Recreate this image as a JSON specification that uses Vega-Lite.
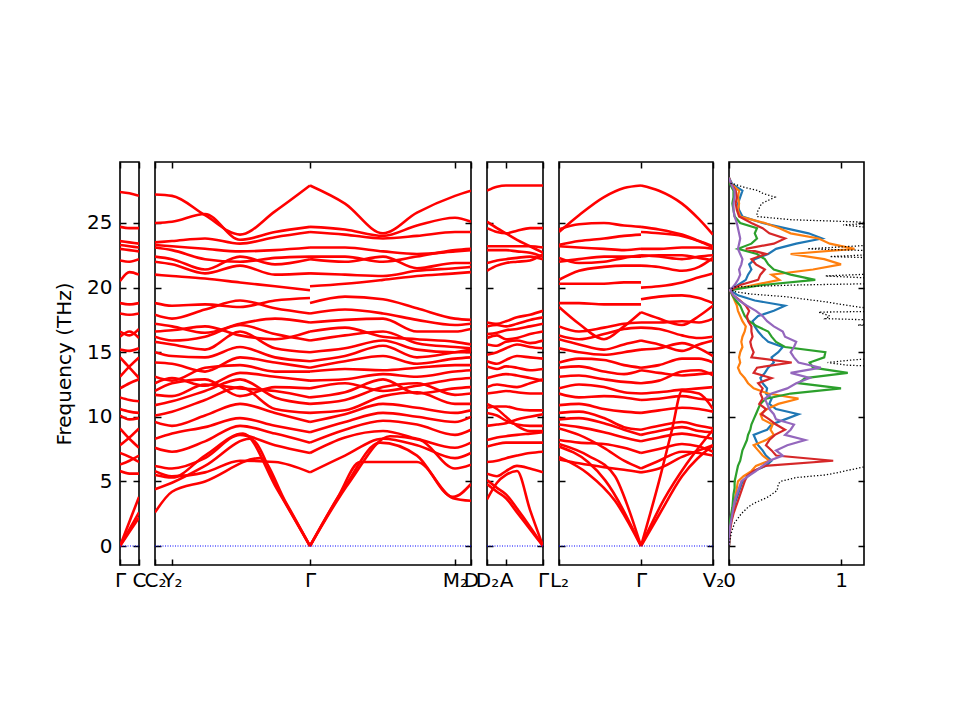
{
"$schema": "https://vega.github.io/schema/vega-lite/v6.json",
"background": "white",
"padding": {"left": 53, "top": 160, "right": 5, "bottom": 5},
"spacing": 16,
"bounds": "flush",
"config": {
  "view": {"stroke": "black", "strokeWidth": 1.6},
  "font": "DejaVu Sans",
  "axis": {"grid": false, "domain": false, "tickColor": "black", "tickWidth": 1.5, "tickSize": -6, "labelPadding": 14, "labelFont": "DejaVu Sans", "labelFontSize": 20, "labelColor": "black", "titleFont": "DejaVu Sans", "titleFontSize": 20, "titleFontWeight": "normal", "titleColor": "black", "labelOverlap": false, "labelFlush": false, "labelBound": false},
  "axisBottom": {"labelPadding": 11}
},
"datasets": {
"p1": [
{"b":"1","x":0,"f":27.4},{"b":"1","x":9.5,"f":27.3},{"b":"1","x":19,"f":27.1},
{"b":"2","x":0,"f":24.7},{"b":"2","x":9.5,"f":24.6},{"b":"2","x":19,"f":24.6},
{"b":"3","x":0,"f":23.6},{"b":"3","x":9.5,"f":23.5},{"b":"3","x":19,"f":23.4},
{"b":"4","x":0,"f":23.3},{"b":"4","x":9.5,"f":23.2},{"b":"4","x":19,"f":23.1},
{"b":"5","x":0,"f":23.0},{"b":"5","x":9.5,"f":22.9},{"b":"5","x":19,"f":22.8},
{"b":"6","x":0,"f":22.1},{"b":"6","x":9.5,"f":22.0},{"b":"6","x":19,"f":22.2},
{"b":"7","x":0,"f":20.5},{"b":"7","x":9.5,"f":21.2},{"b":"7","x":19,"f":21.0},
{"b":"8","x":0,"f":18.8},{"b":"8","x":9.5,"f":18.7},{"b":"8","x":19,"f":18.8},
{"b":"9","x":0,"f":18.0},{"b":"9","x":9.5,"f":17.9},{"b":"9","x":19,"f":18.0},
{"b":"10","x":0,"f":16.6},{"b":"10","x":9.5,"f":16.3},{"b":"10","x":19,"f":16.8},
{"b":"11","x":0,"f":16.2},{"b":"11","x":9.5,"f":16.6},{"b":"11","x":19,"f":16.1},
{"b":"12","x":0,"f":15.2},{"b":"12","x":9.5,"f":15.1},{"b":"12","x":19,"f":15.3},
{"b":"13","x":0,"f":14.6},{"b":"13","x":9.5,"f":13.8},{"b":"13","x":19,"f":13.0},
{"b":"14","x":0,"f":13.1},{"b":"14","x":9.5,"f":13.9},{"b":"14","x":19,"f":14.6},
{"b":"15","x":0,"f":12.2},{"b":"15","x":9.5,"f":12.6},{"b":"15","x":19,"f":12.9},
{"b":"16","x":0,"f":11.5},{"b":"16","x":9.5,"f":11.3},{"b":"16","x":19,"f":11.2},
{"b":"17","x":0,"f":10.6},{"b":"17","x":9.5,"f":10.4},{"b":"17","x":19,"f":10.3},
{"b":"18","x":0,"f":10.1},{"b":"18","x":9.5,"f":9.8},{"b":"18","x":19,"f":9.9},
{"b":"19","x":0,"f":9.1},{"b":"19","x":9.5,"f":8.3},{"b":"19","x":19,"f":7.6},
{"b":"20","x":0,"f":7.8},{"b":"20","x":9.5,"f":8.4},{"b":"20","x":19,"f":9.1},
{"b":"21","x":0,"f":7.2},{"b":"21","x":9.5,"f":6.9},{"b":"21","x":19,"f":6.5},
{"b":"22","x":0,"f":6.3},{"b":"22","x":9.5,"f":6.6},{"b":"22","x":19,"f":7.0},
{"b":"23","x":0,"f":5.8},{"b":"23","x":9.5,"f":5.6},{"b":"23","x":19,"f":5.6},
{"b":"24","x":0,"f":0},{"b":"24","x":9.5,"f":1.9},{"b":"24","x":19,"f":3.8},
{"b":"25","x":0,"f":0},{"b":"25","x":9.5,"f":1.3},{"b":"25","x":19,"f":2.6},
{"b":"26","x":0,"f":0},{"b":"26","x":9.5,"f":1.1},{"b":"26","x":19,"f":2.2}
],
"p2": [
{"b":"aL1","x":0,"f":5.5},{"b":"aL1","x":17,"f":5.3},{"b":"aL1","x":50,"f":7.0},{"b":"aL1","x":88,"f":8.7},{"b":"aL1","x":122,"f":4.4},{"b":"aL1","x":155,"f":0},
{"b":"aL2","x":0,"f":4.4},{"b":"aL2","x":17,"f":4.9},{"b":"aL2","x":50,"f":6.2},{"b":"aL2","x":95,"f":8.3},{"b":"aL2","x":125,"f":4.1},{"b":"aL2","x":155,"f":0},
{"b":"aL3","x":0,"f":2.6},{"b":"aL3","x":17,"f":4.2},{"b":"aL3","x":50,"f":5.0},{"b":"aL3","x":105,"f":6.8},{"b":"aL3","x":130,"f":3.5},{"b":"aL3","x":155,"f":0},
{"b":"aR1","x":155,"f":0},{"b":"aR1","x":183,"f":3.8},{"b":"aR1","x":205,"f":6.5},{"b":"aR1","x":262,"f":6.5},{"b":"aR1","x":298,"f":3.7},{"b":"aR1","x":316,"f":3.5},
{"b":"aR2","x":155,"f":0},{"b":"aR2","x":190,"f":4.6},{"b":"aR2","x":225,"f":8.0},{"b":"aR2","x":262,"f":7.0},{"b":"aR2","x":298,"f":3.8},{"b":"aR2","x":316,"f":4.8},
{"b":"aR3","x":155,"f":0},{"b":"aR3","x":195,"f":5.0},{"b":"aR3","x":235,"f":8.5},{"b":"aR3","x":265,"f":8.2},{"b":"aR3","x":300,"f":6.0},{"b":"aR3","x":316,"f":6.3},
{"b":"L1","x":0,"f":5.8},{"b":"L1","x":17,"f":5.4},{"b":"L1","x":50,"f":5.7},{"b":"L1","x":85,"f":6.6},{"b":"L1","x":120,"f":6.5},{"b":"L1","x":155,"f":5.7},
{"b":"L2","x":0,"f":6.2},{"b":"L2","x":17,"f":6.0},{"b":"L2","x":50,"f":6.8},{"b":"L2","x":85,"f":8.6},{"b":"L2","x":120,"f":7.8},{"b":"L2","x":155,"f":7.2},
{"b":"L3","x":0,"f":7.6},{"b":"L3","x":17,"f":7.3},{"b":"L3","x":50,"f":8.1},{"b":"L3","x":85,"f":9.3},{"b":"L3","x":120,"f":8.7},{"b":"L3","x":155,"f":8.0},
{"b":"L4","x":0,"f":8.3},{"b":"L4","x":17,"f":8.7},{"b":"L4","x":50,"f":9.2},{"b":"L4","x":85,"f":9.9},{"b":"L4","x":120,"f":9.3},{"b":"L4","x":155,"f":8.8},
{"b":"L5","x":0,"f":9.6},{"b":"L5","x":17,"f":9.3},{"b":"L5","x":50,"f":10.1},{"b":"L5","x":85,"f":11.0},{"b":"L5","x":120,"f":10.3},{"b":"L5","x":155,"f":9.6},
{"b":"L6","x":0,"f":10.1},{"b":"L6","x":17,"f":10.4},{"b":"L6","x":50,"f":11.3},{"b":"L6","x":85,"f":12.3},{"b":"L6","x":120,"f":10.6},{"b":"L6","x":155,"f":10.3},
{"b":"L7","x":0,"f":10.9},{"b":"L7","x":17,"f":11.2},{"b":"L7","x":50,"f":12.0},{"b":"L7","x":85,"f":12.9},{"b":"L7","x":120,"f":11.5},{"b":"L7","x":155,"f":11.0},
{"b":"L8","x":0,"f":11.7},{"b":"L8","x":17,"f":11.6},{"b":"L8","x":50,"f":12.5},{"b":"L8","x":85,"f":12.2},{"b":"L8","x":120,"f":12.0},{"b":"L8","x":155,"f":11.5},
{"b":"L9","x":0,"f":12.0},{"b":"L9","x":17,"f":12.6},{"b":"L9","x":50,"f":12.9},{"b":"L9","x":85,"f":11.6},{"b":"L9","x":120,"f":12.3},{"b":"L9","x":155,"f":12.2},
{"b":"L10","x":0,"f":12.6},{"b":"L10","x":17,"f":13.0},{"b":"L10","x":50,"f":12.4},{"b":"L10","x":85,"f":13.4},{"b":"L10","x":120,"f":13.1},{"b":"L10","x":155,"f":12.8},
{"b":"L11","x":0,"f":13.1},{"b":"L11","x":17,"f":12.8},{"b":"L11","x":50,"f":13.8},{"b":"L11","x":85,"f":14.0},{"b":"L11","x":120,"f":13.5},{"b":"L11","x":155,"f":13.5},
{"b":"L12","x":0,"f":14.2},{"b":"L12","x":17,"f":14.1},{"b":"L12","x":50,"f":13.5},{"b":"L12","x":85,"f":14.6},{"b":"L12","x":120,"f":14.2},{"b":"L12","x":155,"f":13.8},
{"b":"L13","x":0,"f":15.0},{"b":"L13","x":17,"f":14.7},{"b":"L13","x":50,"f":14.6},{"b":"L13","x":85,"f":15.4},{"b":"L13","x":120,"f":14.6},{"b":"L13","x":155,"f":14.3},
{"b":"L14","x":0,"f":15.8},{"b":"L14","x":17,"f":15.6},{"b":"L14","x":50,"f":15.2},{"b":"L14","x":85,"f":16.6},{"b":"L14","x":120,"f":15.3},{"b":"L14","x":155,"f":15.0},
{"b":"L15","x":0,"f":16.2},{"b":"L15","x":17,"f":15.9},{"b":"L15","x":50,"f":16.2},{"b":"L15","x":85,"f":17.1},{"b":"L15","x":120,"f":16.4},{"b":"L15","x":155,"f":15.9},
{"b":"L16","x":0,"f":16.6},{"b":"L16","x":17,"f":16.7},{"b":"L16","x":50,"f":17.0},{"b":"L16","x":85,"f":16.3},{"b":"L16","x":120,"f":16.0},{"b":"L16","x":155,"f":16.6},
{"b":"L17","x":0,"f":17.2},{"b":"L17","x":17,"f":17.0},{"b":"L17","x":50,"f":16.5},{"b":"L17","x":85,"f":17.2},{"b":"L17","x":120,"f":17.6},{"b":"L17","x":155,"f":17.3},
{"b":"L18","x":0,"f":17.9},{"b":"L18","x":17,"f":17.6},{"b":"L18","x":50,"f":18.3},{"b":"L18","x":85,"f":19.0},{"b":"L18","x":120,"f":18.4},{"b":"L18","x":155,"f":18.0},
{"b":"L19","x":0,"f":18.8},{"b":"L19","x":17,"f":18.6},{"b":"L19","x":50,"f":18.7},{"b":"L19","x":85,"f":18.5},{"b":"L19","x":120,"f":19.0},{"b":"L19","x":155,"f":19.2},
{"b":"L20","x":0,"f":21.0},{"b":"L20","x":17,"f":20.9},{"b":"L20","x":50,"f":20.7},{"b":"L20","x":85,"f":20.4},{"b":"L20","x":120,"f":20.1},{"b":"L20","x":155,"f":19.8},
{"b":"L21","x":0,"f":22.0},{"b":"L21","x":17,"f":21.8},{"b":"L21","x":50,"f":21.1},{"b":"L21","x":85,"f":21.7},{"b":"L21","x":120,"f":21.0},{"b":"L21","x":155,"f":21.1},
{"b":"L22","x":0,"f":22.4},{"b":"L22","x":17,"f":22.2},{"b":"L22","x":50,"f":21.4},{"b":"L22","x":85,"f":22.4},{"b":"L22","x":120,"f":21.8},{"b":"L22","x":155,"f":22.2},
{"b":"L23","x":0,"f":23.1},{"b":"L23","x":17,"f":22.9},{"b":"L23","x":50,"f":22.2},{"b":"L23","x":85,"f":22.0},{"b":"L23","x":120,"f":22.3},{"b":"L23","x":155,"f":22.4},
{"b":"L24","x":0,"f":23.3},{"b":"L24","x":17,"f":23.2},{"b":"L24","x":50,"f":23.0},{"b":"L24","x":85,"f":22.8},{"b":"L24","x":120,"f":22.9},{"b":"L24","x":155,"f":23.1},
{"b":"L25","x":0,"f":23.5},{"b":"L25","x":17,"f":23.6},{"b":"L25","x":50,"f":23.8},{"b":"L25","x":85,"f":23.4},{"b":"L25","x":120,"f":23.9},{"b":"L25","x":155,"f":24.3},
{"b":"L26","x":0,"f":25.0},{"b":"L26","x":17,"f":25.1},{"b":"L26","x":50,"f":25.7},{"b":"L26","x":85,"f":23.7},{"b":"L26","x":120,"f":24.3},{"b":"L26","x":155,"f":24.7},
{"b":"L27","x":0,"f":27.2},{"b":"L27","x":17,"f":27.1},{"b":"L27","x":50,"f":25.6},{"b":"L27","x":85,"f":24.1},{"b":"L27","x":120,"f":25.9},{"b":"L27","x":155,"f":27.9},
{"b":"R1","x":155,"f":5.7},{"b":"R1","x":190,"f":7.0},{"b":"R1","x":228,"f":8.3},{"b":"R1","x":262,"f":7.8},{"b":"R1","x":300,"f":6.8},{"b":"R1","x":316,"f":7.2},
{"b":"R2","x":155,"f":7.2},{"b":"R2","x":190,"f":8.4},{"b":"R2","x":228,"f":8.9},{"b":"R2","x":262,"f":8.3},{"b":"R2","x":300,"f":7.6},{"b":"R2","x":316,"f":8.0},
{"b":"R3","x":155,"f":8.0},{"b":"R3","x":190,"f":9.0},{"b":"R3","x":228,"f":9.7},{"b":"R3","x":262,"f":9.4},{"b":"R3","x":300,"f":8.6},{"b":"R3","x":316,"f":9.0},
{"b":"R4","x":155,"f":8.8},{"b":"R4","x":190,"f":9.6},{"b":"R4","x":228,"f":10.3},{"b":"R4","x":262,"f":10.0},{"b":"R4","x":300,"f":9.6},{"b":"R4","x":316,"f":10.0},
{"b":"R5","x":155,"f":9.6},{"b":"R5","x":190,"f":10.2},{"b":"R5","x":228,"f":11.0},{"b":"R5","x":262,"f":10.7},{"b":"R5","x":300,"f":10.3},{"b":"R5","x":316,"f":10.5},
{"b":"R6","x":155,"f":10.3},{"b":"R6","x":190,"f":10.5},{"b":"R6","x":228,"f":11.6},{"b":"R6","x":262,"f":11.9},{"b":"R6","x":300,"f":11.0},{"b":"R6","x":316,"f":11.0},
{"b":"R7","x":155,"f":11.0},{"b":"R7","x":190,"f":11.3},{"b":"R7","x":228,"f":12.3},{"b":"R7","x":262,"f":12.6},{"b":"R7","x":300,"f":11.7},{"b":"R7","x":316,"f":11.8},
{"b":"R8","x":155,"f":11.5},{"b":"R8","x":190,"f":11.9},{"b":"R8","x":228,"f":12.9},{"b":"R8","x":262,"f":11.8},{"b":"R8","x":300,"f":12.2},{"b":"R8","x":316,"f":12.3},
{"b":"R9","x":155,"f":12.2},{"b":"R9","x":190,"f":12.6},{"b":"R9","x":228,"f":12.0},{"b":"R9","x":262,"f":12.4},{"b":"R9","x":300,"f":12.9},{"b":"R9","x":316,"f":13.0},
{"b":"R10","x":155,"f":12.8},{"b":"R10","x":190,"f":12.9},{"b":"R10","x":228,"f":13.3},{"b":"R10","x":262,"f":13.1},{"b":"R10","x":300,"f":13.5},{"b":"R10","x":316,"f":13.6},
{"b":"R11","x":155,"f":13.5},{"b":"R11","x":190,"f":13.7},{"b":"R11","x":228,"f":13.6},{"b":"R11","x":262,"f":13.8},{"b":"R11","x":300,"f":14.0},{"b":"R11","x":316,"f":14.0},
{"b":"R12","x":155,"f":13.8},{"b":"R12","x":190,"f":14.3},{"b":"R12","x":228,"f":14.7},{"b":"R12","x":262,"f":14.1},{"b":"R12","x":300,"f":14.5},{"b":"R12","x":316,"f":14.6},
{"b":"R13","x":155,"f":14.3},{"b":"R13","x":190,"f":14.7},{"b":"R13","x":228,"f":15.5},{"b":"R13","x":262,"f":14.6},{"b":"R13","x":300,"f":15.0},{"b":"R13","x":316,"f":15.2},
{"b":"R14","x":155,"f":15.0},{"b":"R14","x":190,"f":15.3},{"b":"R14","x":228,"f":15.9},{"b":"R14","x":262,"f":15.2},{"b":"R14","x":300,"f":15.0},{"b":"R14","x":316,"f":15.0},
{"b":"R15","x":155,"f":15.9},{"b":"R15","x":190,"f":16.3},{"b":"R15","x":228,"f":16.6},{"b":"R15","x":262,"f":15.7},{"b":"R15","x":300,"f":15.4},{"b":"R15","x":316,"f":15.3},
{"b":"R16","x":155,"f":16.6},{"b":"R16","x":190,"f":16.9},{"b":"R16","x":228,"f":16.2},{"b":"R16","x":262,"f":16.0},{"b":"R16","x":300,"f":15.8},{"b":"R16","x":316,"f":15.6},
{"b":"R17","x":155,"f":17.3},{"b":"R17","x":190,"f":17.5},{"b":"R17","x":228,"f":17.6},{"b":"R17","x":262,"f":16.6},{"b":"R17","x":300,"f":16.6},{"b":"R17","x":316,"f":16.8},
{"b":"R18","x":155,"f":18.0},{"b":"R18","x":190,"f":18.3},{"b":"R18","x":228,"f":18.0},{"b":"R18","x":262,"f":17.5},{"b":"R18","x":300,"f":17.1},{"b":"R18","x":316,"f":17.2},
{"b":"R19","x":155,"f":18.8},{"b":"R19","x":190,"f":19.3},{"b":"R19","x":228,"f":19.1},{"b":"R19","x":262,"f":18.4},{"b":"R19","x":300,"f":17.6},{"b":"R19","x":316,"f":17.5},
{"b":"R20","x":155,"f":20.1},{"b":"R20","x":190,"f":20.3},{"b":"R20","x":228,"f":20.6},{"b":"R20","x":262,"f":20.9},{"b":"R20","x":300,"f":21.1},{"b":"R20","x":316,"f":21.2},
{"b":"R21","x":155,"f":21.1},{"b":"R21","x":190,"f":21.0},{"b":"R21","x":228,"f":20.9},{"b":"R21","x":262,"f":21.3},{"b":"R21","x":300,"f":21.5},{"b":"R21","x":316,"f":21.6},
{"b":"R22","x":155,"f":22.2},{"b":"R22","x":190,"f":22.0},{"b":"R22","x":228,"f":22.4},{"b":"R22","x":262,"f":21.5},{"b":"R22","x":300,"f":21.9},{"b":"R22","x":316,"f":21.9},
{"b":"R23","x":155,"f":22.4},{"b":"R23","x":190,"f":22.4},{"b":"R23","x":228,"f":22.0},{"b":"R23","x":262,"f":22.4},{"b":"R23","x":300,"f":22.9},{"b":"R23","x":316,"f":23.0},
{"b":"R24","x":155,"f":23.1},{"b":"R24","x":190,"f":23.1},{"b":"R24","x":228,"f":22.8},{"b":"R24","x":262,"f":22.6},{"b":"R24","x":300,"f":22.8},{"b":"R24","x":316,"f":22.9},
{"b":"R25","x":155,"f":24.3},{"b":"R25","x":190,"f":24.1},{"b":"R25","x":228,"f":23.8},{"b":"R25","x":262,"f":24.0},{"b":"R25","x":300,"f":24.3},{"b":"R25","x":316,"f":24.3},
{"b":"R26","x":155,"f":24.7},{"b":"R26","x":190,"f":24.5},{"b":"R26","x":228,"f":24.0},{"b":"R26","x":262,"f":24.8},{"b":"R26","x":300,"f":25.4},{"b":"R26","x":316,"f":25.1},
{"b":"R27","x":155,"f":27.9},{"b":"R27","x":190,"f":26.5},{"b":"R27","x":228,"f":24.2},{"b":"R27","x":262,"f":25.8},{"b":"R27","x":300,"f":27.1},{"b":"R27","x":316,"f":27.5}
],
"p3": [
{"b":"t1","x":0,"f":27.5},{"b":"t1","x":10,"f":27.8},{"b":"t1","x":19,"f":27.9},{"b":"t1","x":30,"f":27.9},{"b":"t1","x":43,"f":27.9},{"b":"t1","x":56,"f":27.9},
{"b":"t2","x":0,"f":25.1},{"b":"t2","x":10,"f":24.6},{"b":"t2","x":19,"f":24.2},{"b":"t2","x":30,"f":23.7},{"b":"t2","x":43,"f":23.2},{"b":"t2","x":56,"f":22.7},
{"b":"t3","x":0,"f":24.6},{"b":"t3","x":10,"f":24.3},{"b":"t3","x":19,"f":24.2},{"b":"t3","x":30,"f":24.4},{"b":"t3","x":43,"f":24.6},{"b":"t3","x":56,"f":24.6},
{"b":"t4","x":0,"f":23.2},{"b":"t4","x":10,"f":23.2},{"b":"t4","x":19,"f":23.2},{"b":"t4","x":30,"f":23.2},{"b":"t4","x":43,"f":23.2},{"b":"t4","x":56,"f":23.1},
{"b":"t5","x":0,"f":22.9},{"b":"t5","x":10,"f":22.9},{"b":"t5","x":19,"f":22.9},{"b":"t5","x":30,"f":22.8},{"b":"t5","x":43,"f":22.7},{"b":"t5","x":56,"f":22.4},
{"b":"t6","x":0,"f":21.9},{"b":"t6","x":10,"f":22.1},{"b":"t6","x":19,"f":22.2},{"b":"t6","x":30,"f":22.3},{"b":"t6","x":43,"f":22.4},{"b":"t6","x":56,"f":22.2},
{"b":"t7","x":0,"f":21.3},{"b":"t7","x":10,"f":21.7},{"b":"t7","x":19,"f":21.9},{"b":"t7","x":30,"f":22.0},{"b":"t7","x":43,"f":22.1},{"b":"t7","x":56,"f":22.6},
{"b":"t8","x":0,"f":17.3},{"b":"t8","x":10,"f":17.2},{"b":"t8","x":19,"f":17.4},{"b":"t8","x":30,"f":17.7},{"b":"t8","x":43,"f":17.9},{"b":"t8","x":56,"f":18.2},
{"b":"t9","x":0,"f":17.0},{"b":"t9","x":10,"f":17.1},{"b":"t9","x":19,"f":17.0},{"b":"t9","x":30,"f":17.2},{"b":"t9","x":43,"f":17.5},{"b":"t9","x":56,"f":17.7},
{"b":"t10","x":0,"f":16.4},{"b":"t10","x":10,"f":16.5},{"b":"t10","x":19,"f":16.7},{"b":"t10","x":30,"f":16.8},{"b":"t10","x":43,"f":17.0},{"b":"t10","x":56,"f":17.2},
{"b":"t11","x":0,"f":16.1},{"b":"t11","x":10,"f":16.3},{"b":"t11","x":19,"f":16.0},{"b":"t11","x":30,"f":16.1},{"b":"t11","x":43,"f":16.4},{"b":"t11","x":56,"f":16.6},
{"b":"t12","x":0,"f":15.6},{"b":"t12","x":10,"f":15.5},{"b":"t12","x":19,"f":15.8},{"b":"t12","x":30,"f":15.9},{"b":"t12","x":43,"f":15.7},{"b":"t12","x":56,"f":15.9},
{"b":"t13","x":0,"f":14.8},{"b":"t13","x":10,"f":15.0},{"b":"t13","x":19,"f":15.3},{"b":"t13","x":30,"f":15.6},{"b":"t13","x":43,"f":15.4},{"b":"t13","x":56,"f":15.3},
{"b":"t14","x":0,"f":14.3},{"b":"t14","x":10,"f":14.1},{"b":"t14","x":19,"f":14.4},{"b":"t14","x":30,"f":14.7},{"b":"t14","x":43,"f":14.6},{"b":"t14","x":56,"f":14.5},
{"b":"t15","x":0,"f":13.9},{"b":"t15","x":10,"f":13.7},{"b":"t15","x":19,"f":13.9},{"b":"t15","x":30,"f":13.8},{"b":"t15","x":43,"f":13.6},{"b":"t15","x":56,"f":13.7},
{"b":"t16","x":0,"f":13.0},{"b":"t16","x":10,"f":13.2},{"b":"t16","x":19,"f":13.3},{"b":"t16","x":30,"f":13.2},{"b":"t16","x":43,"f":13.0},{"b":"t16","x":56,"f":12.8},
{"b":"t17","x":0,"f":12.3},{"b":"t17","x":10,"f":12.5},{"b":"t17","x":19,"f":12.4},{"b":"t17","x":30,"f":12.3},{"b":"t17","x":43,"f":12.6},{"b":"t17","x":56,"f":12.9},
{"b":"t18","x":0,"f":11.8},{"b":"t18","x":10,"f":11.9},{"b":"t18","x":19,"f":12.0},{"b":"t18","x":30,"f":11.9},{"b":"t18","x":43,"f":11.8},{"b":"t18","x":56,"f":11.8},
{"b":"t19","x":0,"f":11.0},{"b":"t19","x":10,"f":10.6},{"b":"t19","x":19,"f":10.0},{"b":"t19","x":30,"f":9.3},{"b":"t19","x":43,"f":8.9},{"b":"t19","x":56,"f":8.9},
{"b":"t20","x":0,"f":10.7},{"b":"t20","x":10,"f":10.8},{"b":"t20","x":19,"f":10.8},{"b":"t20","x":30,"f":10.6},{"b":"t20","x":43,"f":10.5},{"b":"t20","x":56,"f":10.5},
{"b":"t21","x":0,"f":10.3},{"b":"t21","x":10,"f":10.1},{"b":"t21","x":19,"f":9.7},{"b":"t21","x":30,"f":9.4},{"b":"t21","x":43,"f":9.3},{"b":"t21","x":56,"f":9.3},
{"b":"t22","x":0,"f":9.3},{"b":"t22","x":10,"f":9.4},{"b":"t22","x":19,"f":9.5},{"b":"t22","x":30,"f":9.8},{"b":"t22","x":43,"f":10.0},{"b":"t22","x":56,"f":10.2},
{"b":"t23","x":0,"f":8.2},{"b":"t23","x":10,"f":8.4},{"b":"t23","x":19,"f":8.5},{"b":"t23","x":30,"f":8.6},{"b":"t23","x":43,"f":8.7},{"b":"t23","x":56,"f":8.8},
{"b":"t24","x":0,"f":7.7},{"b":"t24","x":10,"f":7.9},{"b":"t24","x":19,"f":8.0},{"b":"t24","x":30,"f":8.0},{"b":"t24","x":43,"f":8.0},{"b":"t24","x":56,"f":8.0},
{"b":"t25","x":0,"f":6.5},{"b":"t25","x":10,"f":6.6},{"b":"t25","x":19,"f":6.8},{"b":"t25","x":30,"f":7.0},{"b":"t25","x":43,"f":7.2},{"b":"t25","x":56,"f":7.3},
{"b":"t26","x":0,"f":5.6},{"b":"t26","x":10,"f":5.4},{"b":"t26","x":19,"f":5.8},{"b":"t26","x":30,"f":6.2},{"b":"t26","x":43,"f":6.0},{"b":"t26","x":56,"f":5.7},
{"b":"a1","x":0,"f":5.1},{"b":"a1","x":10,"f":4.5},{"b":"a1","x":19,"f":4.0},{"b":"a1","x":30,"f":2.9},{"b":"a1","x":43,"f":1.5},{"b":"a1","x":56,"f":0},
{"b":"a2","x":0,"f":4.8},{"b":"a2","x":10,"f":4.2},{"b":"a2","x":19,"f":3.7},{"b":"a2","x":30,"f":2.6},{"b":"a2","x":43,"f":1.3},{"b":"a2","x":56,"f":0},
{"b":"a3","x":0,"f":3.6},{"b":"a3","x":10,"f":4.9},{"b":"a3","x":19,"f":5.5},{"b":"a3","x":30,"f":5.8},{"b":"a3","x":43,"f":2.8},{"b":"a3","x":56,"f":0}
],
"p4": [
{"b":"L1","x":0,"f":24.3},{"b":"L1","x":20,"f":25.6},{"b":"L1","x":45,"f":27.0},{"b":"L1","x":65,"f":27.7},{"b":"L1","x":82,"f":27.9},
{"b":"L2","x":0,"f":24.5},{"b":"L2","x":20,"f":24.9},{"b":"L2","x":45,"f":25.0},{"b":"L2","x":65,"f":24.8},{"b":"L2","x":82,"f":24.7},
{"b":"L3","x":0,"f":23.3},{"b":"L3","x":20,"f":23.6},{"b":"L3","x":45,"f":23.8},{"b":"L3","x":65,"f":24.0},{"b":"L3","x":82,"f":24.1},
{"b":"L4","x":0,"f":23.2},{"b":"L4","x":20,"f":23.1},{"b":"L4","x":45,"f":23.0},{"b":"L4","x":65,"f":22.9},{"b":"L4","x":82,"f":23.0},
{"b":"L5","x":0,"f":22.3},{"b":"L5","x":20,"f":21.9},{"b":"L5","x":45,"f":22.0},{"b":"L5","x":65,"f":22.3},{"b":"L5","x":82,"f":22.5},
{"b":"L6","x":0,"f":22.0},{"b":"L6","x":20,"f":22.2},{"b":"L6","x":45,"f":22.4},{"b":"L6","x":65,"f":22.4},{"b":"L6","x":82,"f":22.4},
{"b":"L7","x":0,"f":20.6},{"b":"L7","x":20,"f":21.3},{"b":"L7","x":45,"f":21.6},{"b":"L7","x":65,"f":21.7},{"b":"L7","x":82,"f":21.7},
{"b":"L8","x":0,"f":20.3},{"b":"L8","x":20,"f":20.3},{"b":"L8","x":45,"f":20.3},{"b":"L8","x":65,"f":20.4},{"b":"L8","x":82,"f":20.4},
{"b":"L9","x":0,"f":18.8},{"b":"L9","x":20,"f":18.8},{"b":"L9","x":45,"f":18.7},{"b":"L9","x":65,"f":18.7},{"b":"L9","x":82,"f":18.7},
{"b":"L10","x":0,"f":18.5},{"b":"L10","x":20,"f":17.2},{"b":"L10","x":45,"f":16.0},{"b":"L10","x":65,"f":17.0},{"b":"L10","x":82,"f":18.1},
{"b":"L11","x":0,"f":17.0},{"b":"L11","x":20,"f":16.6},{"b":"L11","x":45,"f":16.9},{"b":"L11","x":65,"f":17.2},{"b":"L11","x":82,"f":17.3},
{"b":"L12","x":0,"f":16.3},{"b":"L12","x":20,"f":16.0},{"b":"L12","x":45,"f":16.4},{"b":"L12","x":65,"f":16.8},{"b":"L12","x":82,"f":16.9},
{"b":"L13","x":0,"f":16.0},{"b":"L13","x":20,"f":15.6},{"b":"L13","x":45,"f":15.2},{"b":"L13","x":65,"f":15.6},{"b":"L13","x":82,"f":15.9},
{"b":"L14","x":0,"f":15.3},{"b":"L14","x":20,"f":15.0},{"b":"L14","x":45,"f":14.8},{"b":"L14","x":65,"f":15.0},{"b":"L14","x":82,"f":15.2},
{"b":"L15","x":0,"f":14.2},{"b":"L15","x":20,"f":14.5},{"b":"L15","x":45,"f":14.4},{"b":"L15","x":65,"f":14.0},{"b":"L15","x":82,"f":13.8},
{"b":"L16","x":0,"f":13.8},{"b":"L16","x":20,"f":13.9},{"b":"L16","x":45,"f":13.5},{"b":"L16","x":65,"f":13.3},{"b":"L16","x":82,"f":13.6},
{"b":"L17","x":0,"f":13.1},{"b":"L17","x":20,"f":13.2},{"b":"L17","x":45,"f":12.9},{"b":"L17","x":65,"f":12.7},{"b":"L17","x":82,"f":12.6},
{"b":"L18","x":0,"f":12.2},{"b":"L18","x":20,"f":12.5},{"b":"L18","x":45,"f":12.3},{"b":"L18","x":65,"f":11.9},{"b":"L18","x":82,"f":11.8},
{"b":"L19","x":0,"f":11.8},{"b":"L19","x":20,"f":11.5},{"b":"L19","x":45,"f":11.6},{"b":"L19","x":65,"f":11.5},{"b":"L19","x":82,"f":11.3},
{"b":"L20","x":0,"f":10.9},{"b":"L20","x":20,"f":11.0},{"b":"L20","x":45,"f":10.6},{"b":"L20","x":65,"f":10.4},{"b":"L20","x":82,"f":10.3},
{"b":"L21","x":0,"f":10.3},{"b":"L21","x":20,"f":10.4},{"b":"L21","x":45,"f":9.9},{"b":"L21","x":65,"f":9.2},{"b":"L21","x":82,"f":9.0},
{"b":"L22","x":0,"f":9.8},{"b":"L22","x":20,"f":9.9},{"b":"L22","x":45,"f":9.5},{"b":"L22","x":65,"f":9.0},{"b":"L22","x":82,"f":8.6},
{"b":"L23","x":0,"f":9.4},{"b":"L23","x":20,"f":9.2},{"b":"L23","x":45,"f":8.8},{"b":"L23","x":65,"f":8.4},{"b":"L23","x":82,"f":8.1},
{"b":"L24","x":0,"f":8.2},{"b":"L24","x":20,"f":8.0},{"b":"L24","x":45,"f":7.9},{"b":"L24","x":65,"f":7.6},{"b":"L24","x":82,"f":7.2},
{"b":"L25","x":0,"f":9.1},{"b":"L25","x":20,"f":8.6},{"b":"L25","x":45,"f":7.6},{"b":"L25","x":65,"f":6.6},{"b":"L25","x":82,"f":6.0},
{"b":"L26","x":0,"f":6.7},{"b":"L26","x":20,"f":6.4},{"b":"L26","x":45,"f":6.1},{"b":"L26","x":65,"f":5.9},{"b":"L26","x":82,"f":5.7},
{"b":"aL1","x":0,"f":7.9},{"b":"aL1","x":29,"f":7.0},{"b":"aL1","x":56,"f":5.4},{"b":"aL1","x":70,"f":2.8},{"b":"aL1","x":82,"f":0},
{"b":"aL2","x":0,"f":7.7},{"b":"aL2","x":29,"f":6.5},{"b":"aL2","x":46,"f":5.1},{"b":"aL2","x":82,"f":0},
{"b":"aL3","x":0,"f":6.9},{"b":"aL3","x":29,"f":5.6},{"b":"aL3","x":56,"f":3.5},{"b":"aL3","x":82,"f":0},
{"b":"R1","x":82,"f":27.9},{"b":"R1","x":100,"f":27.5},{"b":"R1","x":123,"f":26.5},{"b":"R1","x":140,"f":25.3},{"b":"R1","x":154,"f":24.1},
{"b":"R2","x":82,"f":24.7},{"b":"R2","x":100,"f":24.5},{"b":"R2","x":123,"f":24.1},{"b":"R2","x":140,"f":23.6},{"b":"R2","x":154,"f":23.1},
{"b":"R3","x":82,"f":24.3},{"b":"R3","x":100,"f":24.2},{"b":"R3","x":123,"f":24.0},{"b":"R3","x":140,"f":23.6},{"b":"R3","x":154,"f":23.2},
{"b":"R4","x":82,"f":23.0},{"b":"R4","x":100,"f":23.0},{"b":"R4","x":123,"f":23.1},{"b":"R4","x":140,"f":23.1},{"b":"R4","x":154,"f":23.0},
{"b":"R5","x":82,"f":22.5},{"b":"R5","x":100,"f":22.4},{"b":"R5","x":123,"f":22.2},{"b":"R5","x":140,"f":22.4},{"b":"R5","x":154,"f":22.5},
{"b":"R6","x":82,"f":22.4},{"b":"R6","x":100,"f":22.5},{"b":"R6","x":123,"f":22.5},{"b":"R6","x":140,"f":22.3},{"b":"R6","x":154,"f":22.1},
{"b":"R7","x":82,"f":21.7},{"b":"R7","x":100,"f":21.6},{"b":"R7","x":123,"f":21.3},{"b":"R7","x":140,"f":21.6},{"b":"R7","x":154,"f":22.3},
{"b":"R8","x":82,"f":20.0},{"b":"R8","x":100,"f":20.1},{"b":"R8","x":123,"f":20.4},{"b":"R8","x":140,"f":20.8},{"b":"R8","x":154,"f":21.1},
{"b":"R9","x":82,"f":19.1},{"b":"R9","x":100,"f":19.3},{"b":"R9","x":123,"f":19.4},{"b":"R9","x":140,"f":19.2},{"b":"R9","x":154,"f":18.8},
{"b":"R10","x":82,"f":18.1},{"b":"R10","x":100,"f":17.6},{"b":"R10","x":123,"f":17.1},{"b":"R10","x":140,"f":17.8},{"b":"R10","x":154,"f":18.6},
{"b":"R11","x":82,"f":17.3},{"b":"R11","x":100,"f":17.3},{"b":"R11","x":123,"f":17.4},{"b":"R11","x":140,"f":17.3},{"b":"R11","x":154,"f":17.6},
{"b":"R12","x":82,"f":16.9},{"b":"R12","x":100,"f":16.8},{"b":"R12","x":123,"f":16.3},{"b":"R12","x":140,"f":16.1},{"b":"R12","x":154,"f":16.2},
{"b":"R13","x":82,"f":15.9},{"b":"R13","x":100,"f":15.6},{"b":"R13","x":123,"f":15.1},{"b":"R13","x":140,"f":15.6},{"b":"R13","x":154,"f":15.9},
{"b":"R14","x":82,"f":15.2},{"b":"R14","x":100,"f":15.3},{"b":"R14","x":123,"f":15.7},{"b":"R14","x":140,"f":15.3},{"b":"R14","x":154,"f":14.7},
{"b":"R15","x":82,"f":13.8},{"b":"R15","x":100,"f":14.0},{"b":"R15","x":123,"f":14.5},{"b":"R15","x":140,"f":14.5},{"b":"R15","x":154,"f":14.2},
{"b":"R16","x":82,"f":13.6},{"b":"R16","x":100,"f":13.4},{"b":"R16","x":123,"f":13.2},{"b":"R16","x":140,"f":13.3},{"b":"R16","x":154,"f":13.4},
{"b":"R17","x":82,"f":12.6},{"b":"R17","x":100,"f":12.8},{"b":"R17","x":123,"f":13.5},{"b":"R17","x":140,"f":13.6},{"b":"R17","x":154,"f":13.2},
{"b":"R18","x":82,"f":11.8},{"b":"R18","x":100,"f":11.9},{"b":"R18","x":123,"f":12.1},{"b":"R18","x":140,"f":12.2},{"b":"R18","x":154,"f":12.3},
{"b":"R19","x":82,"f":11.3},{"b":"R19","x":100,"f":11.4},{"b":"R19","x":123,"f":11.6},{"b":"R19","x":140,"f":11.4},{"b":"R19","x":154,"f":11.3},
{"b":"R20","x":82,"f":10.3},{"b":"R20","x":100,"f":10.5},{"b":"R20","x":123,"f":10.7},{"b":"R20","x":140,"f":10.6},{"b":"R20","x":154,"f":10.4},
{"b":"R21","x":82,"f":9.0},{"b":"R21","x":100,"f":9.3},{"b":"R21","x":123,"f":9.6},{"b":"R21","x":140,"f":9.3},{"b":"R21","x":154,"f":9.1},
{"b":"R22","x":82,"f":8.6},{"b":"R22","x":100,"f":8.9},{"b":"R22","x":123,"f":9.2},{"b":"R22","x":140,"f":8.9},{"b":"R22","x":154,"f":8.8},
{"b":"R23","x":82,"f":8.1},{"b":"R23","x":100,"f":8.4},{"b":"R23","x":123,"f":8.7},{"b":"R23","x":140,"f":8.5},{"b":"R23","x":154,"f":8.3},
{"b":"R24","x":82,"f":7.2},{"b":"R24","x":100,"f":7.5},{"b":"R24","x":123,"f":7.9},{"b":"R24","x":140,"f":7.7},{"b":"R24","x":154,"f":7.3},
{"b":"R25","x":82,"f":6.0},{"b":"R25","x":100,"f":6.6},{"b":"R25","x":123,"f":7.3},{"b":"R25","x":140,"f":7.2},{"b":"R25","x":154,"f":7.0},
{"b":"R26","x":82,"f":5.7},{"b":"R26","x":100,"f":6.0},{"b":"R26","x":123,"f":6.9},{"b":"R26","x":140,"f":7.4},{"b":"R26","x":154,"f":7.8},
{"b":"aR1","x":82,"f":0},{"b":"aR1","x":100,"f":5.0},{"b":"aR1","x":113,"f":9.0},{"b":"aR1","x":123,"f":12.0},{"b":"aR1","x":140,"f":11.8},{"b":"aR1","x":154,"f":10.6},
{"b":"aR2","x":82,"f":0},{"b":"aR2","x":100,"f":2.4},{"b":"aR2","x":123,"f":5.4},{"b":"aR2","x":154,"f":7.8},
{"b":"aR3","x":82,"f":0},{"b":"aR3","x":105,"f":3.6},{"b":"aR3","x":128,"f":6.4},{"b":"aR3","x":154,"f":9.0}
],
"tot": [
{"f":0,"v":0},{"f":1,"v":0.02},{"f":1.8,"v":0.05},{"f":2.5,"v":0.11},{"f":3.0,"v":0.17},{"f":3.3,"v":0.22},{"f":3.6,"v":0.30},{"f":3.8,"v":0.35},{"f":4.3,"v":0.43},{"f":4.8,"v":0.44},{"f":5.0,"v":0.46},{"f":5.3,"v":0.6},{"f":5.5,"v":0.86},{"f":5.7,"v":0.98},{"f":6.1,"v":1.19},{"f":6.5,"v":1.6},{"f":7.0,"v":2.0},{"f":9.0,"v":2.2},{"f":11.0,"v":2.4},{"f":13.0,"v":2.5},{"f":13.8,"v":1.6},{"f":14.0,"v":1.05},{"f":14.2,"v":0.88},{"f":14.4,"v":1.1},{"f":14.7,"v":1.6},{"f":16.0,"v":2.0},{"f":16.9,"v":1.5},{"f":17.1,"v":1.15},{"f":17.3,"v":1.4},{"f":17.5,"v":1.25},{"f":17.6,"v":0.86},{"f":17.8,"v":0.9},{"f":18.1,"v":0.8},{"f":18.15,"v":1.25},{"f":18.35,"v":1.3},{"f":18.5,"v":1.15},{"f":18.9,"v":0.86},{"f":19.3,"v":0.5},{"f":19.5,"v":0.2},{"f":19.7,"v":0.04},{"f":19.9,"v":0.02},{"f":20.05,"v":0.05},{"f":20.2,"v":0.6},{"f":20.3,"v":1.25},{"f":20.6,"v":1.6},{"f":20.9,"v":0.86},{"f":21.1,"v":1.4},{"f":21.8,"v":1.8},{"f":22.3,"v":1.3},{"f":22.4,"v":0.9},{"f":22.6,"v":1.4},{"f":22.85,"v":1.3},{"f":23.0,"v":0.7},{"f":23.3,"v":1.3},{"f":24.0,"v":1.7},{"f":24.6,"v":1.3},{"f":24.85,"v":1.02},{"f":25.0,"v":1.3},{"f":25.1,"v":1.1},{"f":25.25,"v":0.56},{"f":25.5,"v":0.25},{"f":25.8,"v":0.25},{"f":26.5,"v":0.29},{"f":27.0,"v":0.41},{"f":27.3,"v":0.3},{"f":27.5,"v":0.26},{"f":27.8,"v":0.12},{"f":28.0,"v":0.05},{"f":28.1,"v":0}
],
"pdos": [
{"s":"b","f":0,"v":0},{"s":"b","f":0.5,"v":0.002},{"s":"b","f":1,"v":0.005},{"s":"b","f":1.5,"v":0.01},{"s":"b","f":2,"v":0.02},{"s":"b","f":2.5,"v":0.03},{"s":"b","f":3,"v":0.045},{"s":"b","f":3.5,"v":0.06},{"s":"b","f":4,"v":0.08},{"s":"b","f":4.5,"v":0.1},{"s":"b","f":5,"v":0.12},{"s":"b","f":5.4,"v":0.17},{"s":"b","f":5.8,"v":0.22},{"s":"b","f":6.2,"v":0.33},{"s":"b","f":6.6,"v":0.38},{"s":"b","f":7,"v":0.33},{"s":"b","f":7.4,"v":0.3},{"s":"b","f":7.8,"v":0.26},{"s":"b","f":8.2,"v":0.24},{"s":"b","f":8.6,"v":0.22},{"s":"b","f":9,"v":0.34},{"s":"b","f":9.4,"v":0.38},{"s":"b","f":9.8,"v":0.5},{"s":"b","f":10.2,"v":0.62},{"s":"b","f":10.6,"v":0.42},{"s":"b","f":11,"v":0.36},{"s":"b","f":11.4,"v":0.38},{"s":"b","f":11.8,"v":0.33},{"s":"b","f":12.2,"v":0.34},{"s":"b","f":12.6,"v":0.3},{"s":"b","f":13,"v":0.28},{"s":"b","f":13.4,"v":0.32},{"s":"b","f":13.8,"v":0.35},{"s":"b","f":14.2,"v":0.4},{"s":"b","f":14.6,"v":0.38},{"s":"b","f":15,"v":0.44},{"s":"b","f":15.4,"v":0.48},{"s":"b","f":15.8,"v":0.35},{"s":"b","f":16.2,"v":0.3},{"s":"b","f":16.6,"v":0.26},{"s":"b","f":17,"v":0.23},{"s":"b","f":17.4,"v":0.21},{"s":"b","f":17.8,"v":0.26},{"s":"b","f":18.2,"v":0.4},{"s":"b","f":18.6,"v":0.5},{"s":"b","f":19,"v":0.23},{"s":"b","f":19.4,"v":0.08},{"s":"b","f":19.8,"v":0.01},{"s":"b","f":20.2,"v":0.08},{"s":"b","f":20.6,"v":0.15},{"s":"b","f":21,"v":0.17},{"s":"b","f":21.4,"v":0.2},{"s":"b","f":21.8,"v":0.18},{"s":"b","f":22.2,"v":0.23},{"s":"b","f":22.6,"v":0.35},{"s":"b","f":23,"v":0.42},{"s":"b","f":23.4,"v":0.6},{"s":"b","f":23.8,"v":0.83},{"s":"b","f":24.2,"v":0.71},{"s":"b","f":24.6,"v":0.5},{"s":"b","f":25,"v":0.3},{"s":"b","f":25.5,"v":0.12},{"s":"b","f":26,"v":0.09},{"s":"b","f":26.5,"v":0.08},{"s":"b","f":27,"v":0.1},{"s":"b","f":27.5,"v":0.12},{"s":"b","f":28,"v":0.03},{"s":"b","f":28.5,"v":0},
{"s":"o","f":0,"v":0},{"s":"o","f":0.5,"v":0.002},{"s":"o","f":1,"v":0.005},{"s":"o","f":1.5,"v":0.01},{"s":"o","f":2,"v":0.02},{"s":"o","f":2.5,"v":0.03},{"s":"o","f":3,"v":0.04},{"s":"o","f":3.5,"v":0.05},{"s":"o","f":4,"v":0.06},{"s":"o","f":4.5,"v":0.07},{"s":"o","f":5,"v":0.08},{"s":"o","f":5.4,"v":0.13},{"s":"o","f":5.8,"v":0.2},{"s":"o","f":6.2,"v":0.24},{"s":"o","f":6.6,"v":0.36},{"s":"o","f":7,"v":0.3},{"s":"o","f":7.4,"v":0.26},{"s":"o","f":7.8,"v":0.22},{"s":"o","f":8.2,"v":0.33},{"s":"o","f":8.6,"v":0.4},{"s":"o","f":9,"v":0.37},{"s":"o","f":9.4,"v":0.39},{"s":"o","f":9.8,"v":0.3},{"s":"o","f":10.2,"v":0.28},{"s":"o","f":10.6,"v":0.34},{"s":"o","f":11,"v":0.44},{"s":"o","f":11.4,"v":0.62},{"s":"o","f":11.8,"v":0.35},{"s":"o","f":12.2,"v":0.22},{"s":"o","f":12.6,"v":0.17},{"s":"o","f":13,"v":0.14},{"s":"o","f":13.4,"v":0.1},{"s":"o","f":13.8,"v":0.08},{"s":"o","f":14.2,"v":0.1},{"s":"o","f":14.6,"v":0.09},{"s":"o","f":15,"v":0.1},{"s":"o","f":15.4,"v":0.12},{"s":"o","f":15.8,"v":0.11},{"s":"o","f":16.2,"v":0.12},{"s":"o","f":16.6,"v":0.14},{"s":"o","f":17,"v":0.15},{"s":"o","f":17.4,"v":0.12},{"s":"o","f":17.8,"v":0.1},{"s":"o","f":18.2,"v":0.08},{"s":"o","f":18.6,"v":0.07},{"s":"o","f":19,"v":0.05},{"s":"o","f":19.4,"v":0.03},{"s":"o","f":19.8,"v":0.01},{"s":"o","f":20.2,"v":0.22},{"s":"o","f":20.6,"v":0.45},{"s":"o","f":21,"v":0.38},{"s":"o","f":21.4,"v":0.75},{"s":"o","f":21.8,"v":1.0},{"s":"o","f":22.2,"v":0.85},{"s":"o","f":22.6,"v":0.55},{"s":"o","f":23,"v":1.12},{"s":"o","f":23.4,"v":0.9},{"s":"o","f":23.8,"v":0.8},{"s":"o","f":24.2,"v":0.55},{"s":"o","f":24.6,"v":0.45},{"s":"o","f":25,"v":0.32},{"s":"o","f":25.5,"v":0.1},{"s":"o","f":26,"v":0.08},{"s":"o","f":26.5,"v":0.09},{"s":"o","f":27,"v":0.08},{"s":"o","f":27.5,"v":0.09},{"s":"o","f":28,"v":0.02},{"s":"o","f":28.5,"v":0},
{"s":"g","f":0,"v":0},{"s":"g","f":0.5,"v":0.001},{"s":"g","f":1,"v":0.003},{"s":"g","f":1.5,"v":0.006},{"s":"g","f":2,"v":0.01},{"s":"g","f":2.5,"v":0.02},{"s":"g","f":3,"v":0.03},{"s":"g","f":3.5,"v":0.035},{"s":"g","f":4,"v":0.04},{"s":"g","f":4.5,"v":0.05},{"s":"g","f":5,"v":0.05},{"s":"g","f":5.4,"v":0.06},{"s":"g","f":5.8,"v":0.07},{"s":"g","f":6.2,"v":0.08},{"s":"g","f":6.6,"v":0.1},{"s":"g","f":7,"v":0.11},{"s":"g","f":7.4,"v":0.12},{"s":"g","f":7.8,"v":0.14},{"s":"g","f":8.2,"v":0.16},{"s":"g","f":8.6,"v":0.17},{"s":"g","f":9,"v":0.19},{"s":"g","f":9.4,"v":0.2},{"s":"g","f":9.8,"v":0.22},{"s":"g","f":10.2,"v":0.24},{"s":"g","f":10.6,"v":0.26},{"s":"g","f":11,"v":0.28},{"s":"g","f":11.4,"v":0.33},{"s":"g","f":11.8,"v":0.55},{"s":"g","f":12.2,"v":1.0},{"s":"g","f":12.6,"v":0.62},{"s":"g","f":13,"v":0.68},{"s":"g","f":13.4,"v":1.06},{"s":"g","f":13.8,"v":0.75},{"s":"g","f":14.2,"v":0.72},{"s":"g","f":14.6,"v":0.85},{"s":"g","f":15,"v":0.86},{"s":"g","f":15.4,"v":0.5},{"s":"g","f":15.8,"v":0.42},{"s":"g","f":16.2,"v":0.38},{"s":"g","f":16.6,"v":0.35},{"s":"g","f":17,"v":0.25},{"s":"g","f":17.4,"v":0.18},{"s":"g","f":17.8,"v":0.14},{"s":"g","f":18.2,"v":0.12},{"s":"g","f":18.6,"v":0.1},{"s":"g","f":19,"v":0.06},{"s":"g","f":19.4,"v":0.03},{"s":"g","f":19.8,"v":0.01},{"s":"g","f":20.2,"v":0.3},{"s":"g","f":20.6,"v":0.77},{"s":"g","f":21,"v":0.55},{"s":"g","f":21.4,"v":0.4},{"s":"g","f":21.8,"v":0.35},{"s":"g","f":22.2,"v":0.32},{"s":"g","f":22.6,"v":0.25},{"s":"g","f":23,"v":0.08},{"s":"g","f":23.4,"v":0.2},{"s":"g","f":23.8,"v":0.25},{"s":"g","f":24.2,"v":0.23},{"s":"g","f":24.6,"v":0.25},{"s":"g","f":25,"v":0.1},{"s":"g","f":25.5,"v":0.05},{"s":"g","f":26,"v":0.04},{"s":"g","f":26.5,"v":0.03},{"s":"g","f":27,"v":0.04},{"s":"g","f":27.5,"v":0.04},{"s":"g","f":28,"v":0.01},{"s":"g","f":28.5,"v":0},
{"s":"r","f":0,"v":0},{"s":"r","f":0.5,"v":0.003},{"s":"r","f":1,"v":0.007},{"s":"r","f":1.5,"v":0.015},{"s":"r","f":2,"v":0.025},{"s":"r","f":2.5,"v":0.04},{"s":"r","f":3,"v":0.06},{"s":"r","f":3.5,"v":0.08},{"s":"r","f":4,"v":0.1},{"s":"r","f":4.5,"v":0.12},{"s":"r","f":5,"v":0.14},{"s":"r","f":5.4,"v":0.16},{"s":"r","f":5.8,"v":0.22},{"s":"r","f":6.2,"v":0.32},{"s":"r","f":6.6,"v":0.93},{"s":"r","f":7,"v":0.42},{"s":"r","f":7.4,"v":0.38},{"s":"r","f":7.8,"v":0.33},{"s":"r","f":8.2,"v":0.36},{"s":"r","f":8.6,"v":0.41},{"s":"r","f":9,"v":0.5},{"s":"r","f":9.4,"v":0.42},{"s":"r","f":9.8,"v":0.36},{"s":"r","f":10.2,"v":0.29},{"s":"r","f":10.6,"v":0.33},{"s":"r","f":11,"v":0.27},{"s":"r","f":11.4,"v":0.3},{"s":"r","f":11.8,"v":0.28},{"s":"r","f":12.2,"v":0.3},{"s":"r","f":12.6,"v":0.26},{"s":"r","f":13,"v":0.38},{"s":"r","f":13.4,"v":0.22},{"s":"r","f":13.8,"v":0.25},{"s":"r","f":14.2,"v":0.56},{"s":"r","f":14.6,"v":0.2},{"s":"r","f":15,"v":0.22},{"s":"r","f":15.4,"v":0.2},{"s":"r","f":15.8,"v":0.19},{"s":"r","f":16.2,"v":0.21},{"s":"r","f":16.6,"v":0.2},{"s":"r","f":17,"v":0.2},{"s":"r","f":17.4,"v":0.17},{"s":"r","f":17.8,"v":0.16},{"s":"r","f":18.2,"v":0.18},{"s":"r","f":18.6,"v":0.15},{"s":"r","f":19,"v":0.1},{"s":"r","f":19.4,"v":0.04},{"s":"r","f":19.8,"v":0.01},{"s":"r","f":20.2,"v":0.1},{"s":"r","f":20.6,"v":0.26},{"s":"r","f":21,"v":0.28},{"s":"r","f":21.4,"v":0.32},{"s":"r","f":21.8,"v":0.24},{"s":"r","f":22.2,"v":0.2},{"s":"r","f":22.6,"v":0.33},{"s":"r","f":23,"v":0.15},{"s":"r","f":23.4,"v":0.4},{"s":"r","f":23.8,"v":0.5},{"s":"r","f":24.2,"v":0.36},{"s":"r","f":24.6,"v":0.3},{"s":"r","f":25,"v":0.2},{"s":"r","f":25.5,"v":0.09},{"s":"r","f":26,"v":0.07},{"s":"r","f":26.5,"v":0.06},{"s":"r","f":27,"v":0.07},{"s":"r","f":27.5,"v":0.06},{"s":"r","f":28,"v":0.02},{"s":"r","f":28.5,"v":0},
{"s":"p","f":0,"v":0},{"s":"p","f":0.5,"v":0.002},{"s":"p","f":1,"v":0.005},{"s":"p","f":1.5,"v":0.01},{"s":"p","f":2,"v":0.02},{"s":"p","f":2.5,"v":0.03},{"s":"p","f":3,"v":0.04},{"s":"p","f":3.5,"v":0.05},{"s":"p","f":4,"v":0.07},{"s":"p","f":4.5,"v":0.09},{"s":"p","f":5,"v":0.11},{"s":"p","f":5.4,"v":0.17},{"s":"p","f":5.8,"v":0.24},{"s":"p","f":6.2,"v":0.3},{"s":"p","f":6.6,"v":0.36},{"s":"p","f":7,"v":0.48},{"s":"p","f":7.4,"v":0.42},{"s":"p","f":7.8,"v":0.52},{"s":"p","f":8.2,"v":0.68},{"s":"p","f":8.6,"v":0.5},{"s":"p","f":9,"v":0.55},{"s":"p","f":9.4,"v":0.58},{"s":"p","f":9.8,"v":0.42},{"s":"p","f":10.2,"v":0.4},{"s":"p","f":10.6,"v":0.36},{"s":"p","f":11,"v":0.34},{"s":"p","f":11.4,"v":0.32},{"s":"p","f":11.8,"v":0.38},{"s":"p","f":12.2,"v":0.52},{"s":"p","f":12.6,"v":0.6},{"s":"p","f":13,"v":0.72},{"s":"p","f":13.4,"v":0.55},{"s":"p","f":13.8,"v":0.82},{"s":"p","f":14.2,"v":0.62},{"s":"p","f":14.6,"v":0.58},{"s":"p","f":15,"v":0.55},{"s":"p","f":15.4,"v":0.58},{"s":"p","f":15.8,"v":0.6},{"s":"p","f":16.2,"v":0.5},{"s":"p","f":16.6,"v":0.48},{"s":"p","f":17,"v":0.4},{"s":"p","f":17.4,"v":0.34},{"s":"p","f":17.8,"v":0.3},{"s":"p","f":18.2,"v":0.24},{"s":"p","f":18.6,"v":0.16},{"s":"p","f":19,"v":0.09},{"s":"p","f":19.4,"v":0.04},{"s":"p","f":19.8,"v":0.01},{"s":"p","f":20.2,"v":0.05},{"s":"p","f":20.6,"v":0.08},{"s":"p","f":21,"v":0.1},{"s":"p","f":21.4,"v":0.09},{"s":"p","f":21.8,"v":0.11},{"s":"p","f":22.2,"v":0.12},{"s":"p","f":22.6,"v":0.1},{"s":"p","f":23,"v":0.08},{"s":"p","f":23.4,"v":0.09},{"s":"p","f":23.8,"v":0.1},{"s":"p","f":24.2,"v":0.09},{"s":"p","f":24.6,"v":0.08},{"s":"p","f":25,"v":0.07},{"s":"p","f":25.5,"v":0.05},{"s":"p","f":26,"v":0.04},{"s":"p","f":26.5,"v":0.04},{"s":"p","f":27,"v":0.05},{"s":"p","f":27.5,"v":0.05},{"s":"p","f":28,"v":0.02},{"s":"p","f":28.5,"v":0}
]
},
"hconcat": [
{
 "width": 19, "height": 403,
 "layer": [
  {"data": {"name": "p1"},
   "mark": {"type": "line", "color": "#ff0000", "strokeWidth": 2.6, "interpolate": "monotone", "clip": true},
   "encoding": {
    "x": {"field": "x", "type": "quantitative", "scale": {"domain": [0, 19], "nice": false, "zero": false}, "axis": {"orient": "bottom", "values": [0, 19], "labelExpr": "datum.value == 0 ? 'Γ' : 'C'", "title": null}},
    "y": {"field": "f", "type": "quantitative", "scale": {"domain": [-1.47, 29.72], "nice": false, "zero": false}, "axis": {"orient": "left", "values": [0, 5, 10, 15, 20, 25], "format": "d", "title": "Frequency (THz)", "titlePadding": 12}},
    "detail": {"field": "b", "type": "nominal"}
   }},
  {"data": {"values": [{}]},
   "mark": {"type": "rule", "color": "#0000ff", "strokeWidth": 1, "strokeDash": [1, 1.5]},
   "encoding": {
    "x": {"datum": 0, "type": "quantitative", "axis": {"orient": "top", "values": [0, 19], "labels": false, "title": null}},
    "x2": {"datum": 19},
    "y": {"datum": 0, "type": "quantitative", "axis": {"orient": "right", "values": [0, 5, 10, 15, 20, 25], "labels": false, "title": null}}
   }}
 ],
 "resolve": {"axis": {"x": "independent", "y": "independent"}}
},
{
 "width": 316, "height": 403,
 "layer": [
  {"data": {"name": "p2"},
   "mark": {"type": "line", "color": "#ff0000", "strokeWidth": 2.6, "interpolate": "monotone", "clip": true},
   "encoding": {
    "x": {"field": "x", "type": "quantitative", "scale": {"domain": [0, 316], "nice": false, "zero": false}, "axis": {"orient": "bottom", "values": [0, 17, 155, 300, 316], "labelExpr": "datum.value == 0 ? 'C₂' : datum.value == 17 ? 'Y₂' : datum.value == 155 ? 'Γ' : datum.value == 300 ? 'M₂' : 'D'", "title": null}},
    "y": {"field": "f", "type": "quantitative", "scale": {"domain": [-1.47, 29.72], "nice": false, "zero": false}, "axis": {"orient": "left", "values": [0, 5, 10, 15, 20, 25], "labels": false, "title": null}},
    "detail": {"field": "b", "type": "nominal"}
   }},
  {"data": {"values": [{}]},
   "mark": {"type": "rule", "color": "#0000ff", "strokeWidth": 1, "strokeDash": [1, 1.5]},
   "encoding": {
    "x": {"datum": 0, "type": "quantitative", "axis": {"orient": "top", "values": [0, 17, 155, 300, 316], "labels": false, "title": null}},
    "x2": {"datum": 316},
    "y": {"datum": 0, "type": "quantitative", "axis": {"orient": "right", "values": [0, 5, 10, 15, 20, 25], "labels": false, "title": null}}
   }}
 ],
 "resolve": {"axis": {"x": "independent", "y": "independent"}}
},
{
 "width": 56, "height": 403,
 "layer": [
  {"data": {"name": "p3"},
   "mark": {"type": "line", "color": "#ff0000", "strokeWidth": 2.6, "interpolate": "monotone", "clip": true},
   "encoding": {
    "x": {"field": "x", "type": "quantitative", "scale": {"domain": [0, 56], "nice": false, "zero": false}, "axis": {"orient": "bottom", "values": [0, 19, 56], "labelExpr": "datum.value == 0 ? 'D₂' : datum.value == 19 ? 'A' : 'Γ'", "title": null}},
    "y": {"field": "f", "type": "quantitative", "scale": {"domain": [-1.47, 29.72], "nice": false, "zero": false}, "axis": {"orient": "left", "values": [0, 5, 10, 15, 20, 25], "labels": false, "title": null}},
    "detail": {"field": "b", "type": "nominal"}
   }},
  {"data": {"values": [{}]},
   "mark": {"type": "rule", "color": "#0000ff", "strokeWidth": 1, "strokeDash": [1, 1.5]},
   "encoding": {
    "x": {"datum": 0, "type": "quantitative", "axis": {"orient": "top", "values": [0, 19, 56], "labels": false, "title": null}},
    "x2": {"datum": 56},
    "y": {"datum": 0, "type": "quantitative", "axis": {"orient": "right", "values": [0, 5, 10, 15, 20, 25], "labels": false, "title": null}}
   }}
 ],
 "resolve": {"axis": {"x": "independent", "y": "independent"}}
},
{
 "width": 154, "height": 403,
 "layer": [
  {"data": {"name": "p4"},
   "mark": {"type": "line", "color": "#ff0000", "strokeWidth": 2.6, "interpolate": "monotone", "clip": true},
   "encoding": {
    "x": {"field": "x", "type": "quantitative", "scale": {"domain": [0, 154], "nice": false, "zero": false}, "axis": {"orient": "bottom", "values": [0, 82, 154], "labelExpr": "datum.value == 0 ? 'L₂' : datum.value == 82 ? 'Γ' : 'V₂'", "title": null}},
    "y": {"field": "f", "type": "quantitative", "scale": {"domain": [-1.47, 29.72], "nice": false, "zero": false}, "axis": {"orient": "left", "values": [0, 5, 10, 15, 20, 25], "labels": false, "title": null}},
    "detail": {"field": "b", "type": "nominal"}
   }},
  {"data": {"values": [{}]},
   "mark": {"type": "rule", "color": "#0000ff", "strokeWidth": 1, "strokeDash": [1, 1.5]},
   "encoding": {
    "x": {"datum": 0, "type": "quantitative", "axis": {"orient": "top", "values": [0, 82, 154], "labels": false, "title": null}},
    "x2": {"datum": 154},
    "y": {"datum": 0, "type": "quantitative", "axis": {"orient": "right", "values": [0, 5, 10, 15, 20, 25], "labels": false, "title": null}}
   }}
 ],
 "resolve": {"axis": {"x": "independent", "y": "independent"}}
},
{
 "width": 135, "height": 403,
 "layer": [
  {"data": {"name": "pdos"},
   "mark": {"type": "line", "strokeWidth": 2.2, "clip": true},
   "encoding": {
    "x": {"field": "v", "type": "quantitative", "scale": {"domain": [0, 1.205], "nice": false, "zero": false}, "axis": {"orient": "bottom", "values": [0, 1], "format": "d", "title": null}},
    "y": {"field": "f", "type": "quantitative", "scale": {"domain": [-1.47, 29.72], "nice": false, "zero": false}, "axis": {"orient": "left", "values": [0, 5, 10, 15, 20, 25], "labels": false, "title": null}},
    "color": {"field": "s", "type": "nominal", "scale": {"domain": ["b", "o", "g", "r", "p"], "range": ["#1f77b4", "#ff7f0e", "#2ca02c", "#d62728", "#9467bd"]}, "legend": null},
    "order": {"field": "f", "type": "quantitative"}
   }},
  {"data": {"name": "tot"},
   "mark": {"type": "line", "color": "black", "strokeWidth": 1.3, "strokeDash": [1.3, 2], "clip": true},
   "encoding": {
    "x": {"field": "v", "type": "quantitative", "axis": {"orient": "top", "values": [0, 1], "labels": false, "title": null}},
    "y": {"field": "f", "type": "quantitative", "axis": {"orient": "right", "values": [0, 5, 10, 15, 20, 25], "labels": false, "title": null}},
    "order": {"field": "f", "type": "quantitative"}
   }}
 ],
 "resolve": {"axis": {"x": "independent", "y": "independent"}}
}
]
}
